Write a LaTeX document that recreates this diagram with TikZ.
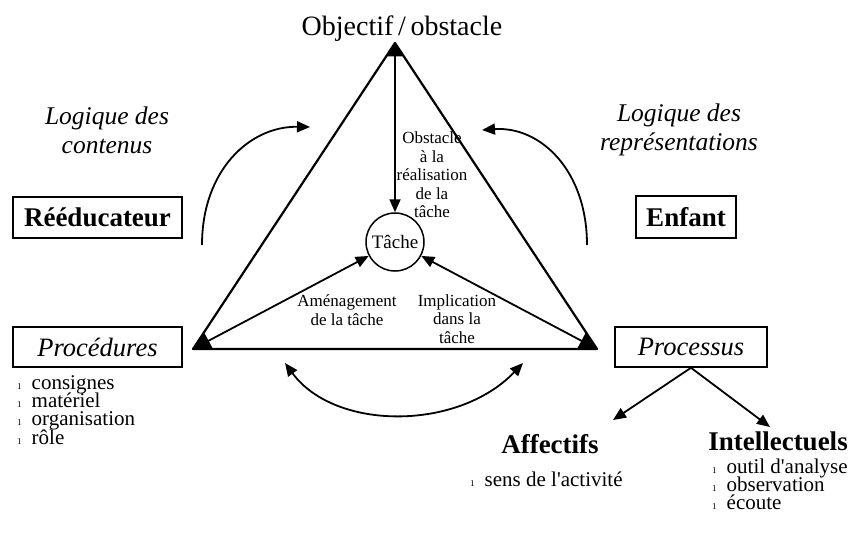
\documentclass[tikz,border=0pt]{standalone}
\usepackage{fontspec}
\setmainfont{Liberation Serif}
\usetikzlibrary{arrows.meta,calc}

\newcommand{\taille}[2]{\fontsize{#1}{#2}\selectfont}
\newcommand{\puce}{{\taille{9}{9}1}\hspace{10pt}}

\tikzset{
  fleche/.style={line width=1.8pt,-{Triangle[length=13pt,width=11pt]}},
  flechedouble/.style={line width=1.8pt,{Triangle[length=13pt,width=11pt]}-{Triangle[length=13pt,width=11pt]}},
  boite/.style={draw,line width=1.5pt,inner sep=0pt},
  petit/.style={align=center,font=\taille{17}{18.5}},
  item/.style={anchor=base west,inner sep=0pt,font=\taille{21}{22}}
}

\begin{document}
\begin{tikzpicture}[x=1pt,y=-1pt]
		\useasboundingbox (0,0) rectangle (849,536);
		% Triangle pedagogique
		\coordinate (Top) at (395,43);
		\coordinate (Left) at (193,349);
		\coordinate (Right) at (597,349);
		\draw[line width=2.2pt,line join=round] (Top) -- (Left) -- (Right) -- cycle;
		\fill (Top) -- ($(Top)!16pt!(Left)$) -- ($(Top)!16pt!(Right)$) -- cycle;
		\fill (Left) -- ($(Left)!20pt!(Top)$) -- ($(Left)!20pt!(Right)$) -- cycle;
		\fill (Right) -- ($(Right)!20pt!(Top)$) -- ($(Right)!20pt!(Left)$) -- cycle;

		\node[anchor=base,font=\taille{28}{30}] (Objectif) at (402,35) {Objectif\,/\,obstacle};
		\node[draw,circle,line width=1.5pt,minimum size=58pt,inner sep=0pt,font=\taille{19}{20}] (Tache) at (395,242) {Tâche};

		\draw[fleche] (Top) -- (Tache.north);
		\draw[fleche] (Left) -- (Tache);
		\draw[fleche] (Right) -- (Tache);

		\node[petit] (Obstacle) at (432,175) {Obstacle\\à la\\réalisation\\de la\\tâche};
		\node[petit] (Amenagement) at (347,310) {Aménagement\\de la tâche};
		\node[petit] (Implication) at (457,319) {Implication\\dans la\\tâche};

		% les deux logiques
		\node[align=center,font=\taille{25.5}{29}\itshape] (LogiqueC) at (107,130) {Logique des\\contenus};
		\node[align=center,font=\taille{25.5}{29}\itshape] (LogiqueR) at (679,130) {Logique des\\représentations};
		\coordinate (CourbeG) at (202,245);
		\coordinate (PointeG) at (310,127);
		\coordinate (CourbeD) at (587,245);
		\coordinate (PointeD) at (482,130);
		\draw[fleche] (CourbeG) .. controls (202,170) and (250,126) .. (PointeG);
		\draw[fleche] (CourbeD) .. controls (587,170) and (540,126) .. (PointeD);

		\coordinate (ArcG) at (285,363);
		\coordinate (ArcD) at (523,363);
		\draw[flechedouble] (ArcG) .. controls (335,431) and (458,431) .. (ArcD);

		% les acteurs
		\node[boite,minimum width=169pt,minimum height=41pt,font=\taille{27}{28}\bfseries] (Reeducateur) at (97.5,217.5) {Rééducateur};
		\node[boite,minimum width=100pt,minimum height=42pt,font=\taille{27}{28}\bfseries] (Enfant) at (686,217) {Enfant};
		\node[boite,minimum width=169pt,minimum height=40pt,font=\taille{26.5}{27}\itshape] (Procedures) at (97.5,347) {Procédures};
		\node[boite,minimum width=152pt,minimum height=40pt,font=\taille{26.5}{27}\itshape] (Processus) at (691,347) {Processus};

		\foreach \texte [count=\i] in {consignes,matériel,organisation,rôle}
		  \node[item] (Proc\i) at (17,{371+18.3*\i}) {\puce \texte};

		\node[anchor=base,font=\taille{27}{28}\bfseries] (Affectifs) at (550,453) {Affectifs};
		\node[anchor=base,font=\taille{27}{28}\bfseries] (Intellectuels) at (778,450) {Intellectuels};
		\node[item] (Aff1) at (470,486) {\puce sens de l\textquotesingle{}activité};
		\foreach \texte [count=\i] in {outil d\textquotesingle{}analyse,observation,écoute}
		  \node[item] (Int\i) at (712,{455+18.3*\i}) {\puce \texte};

		\coordinate (PointeAff) at (613,420);
		\coordinate (PointeInt) at (770,427);
		\draw[fleche] (Processus.south) -- (PointeAff);
		\draw[fleche] (Processus.south) -- (PointeInt);
		\end{tikzpicture}
\end{document}
